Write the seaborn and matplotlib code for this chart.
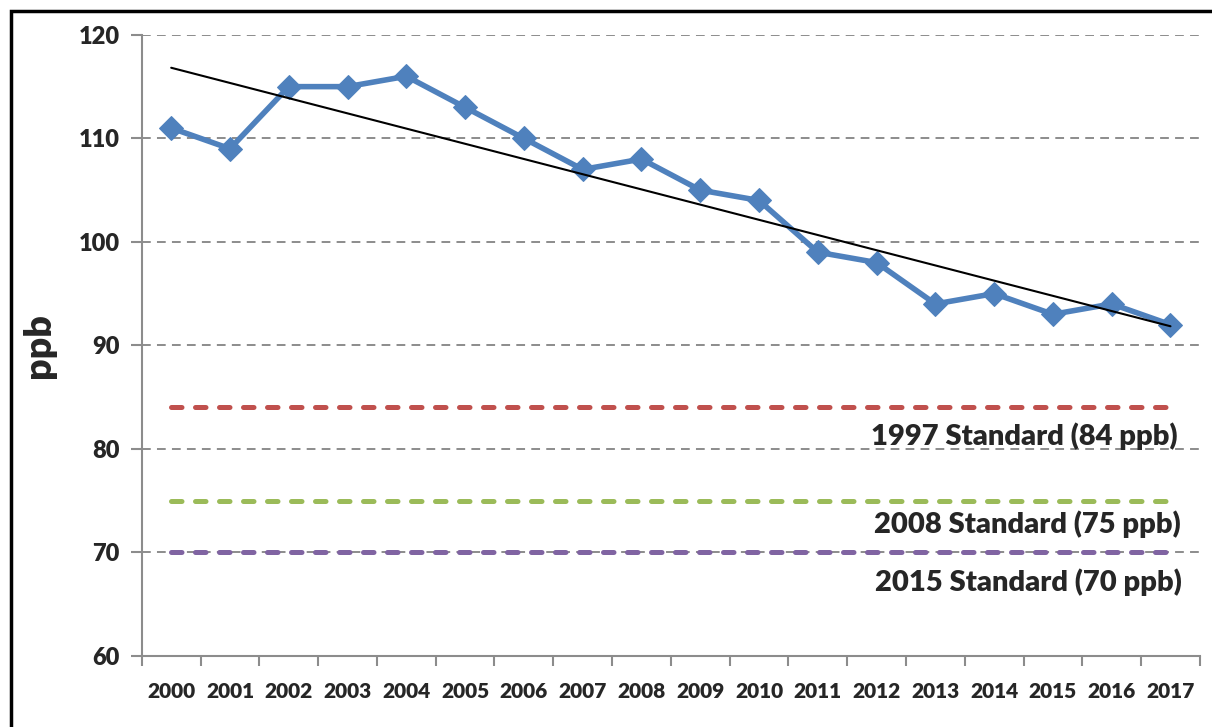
import numpy as np
import pandas as pd
import matplotlib
matplotlib.use("Agg")
import matplotlib.pyplot as plt
import seaborn as sns
from matplotlib.patches import Rectangle

# data
years = [str(y) for y in range(2000, 2018)]
ppb = [111, 109, 115, 115, 116, 113, 110, 107, 108, 105, 104, 99, 98, 94, 95, 93, 94, 92]
standard_names = ["1997 Standard (84 ppb)", "2008 Standard (75 ppb)", "2015 Standard (70 ppb)"]
standard_values = [84, 75, 70]
standard_colors = ["#C0504D", "#9BBB59", "#8064A2"]
y_ticks = [60, 70, 80, 90, 100, 110, 120]

sns.set_style("white")
plt.rcParams['font.family'] = ['Lato', 'DejaVu Sans']
plt.rcParams['font.weight'] = 'heavy'
W = "heavy"

df = pd.DataFrame({"year": years, "ppb": ppb})
df["idx"] = np.arange(len(years))

fig = plt.figure(figsize=(12.12, 7.27), dpi=100)
ax = fig.add_axes([0.117, 0.098, 0.873, 0.854])

# gridlines
for v in y_ticks[1:]:
    ax.axhline(v, color="#8c8c8c", lw=1.4, ls=(0, (4.5, 3.2)), zorder=1)

# standards
for name, val, col in zip(standard_names, standard_values, standard_colors):
    sdf = pd.DataFrame({"idx": df["idx"], "v": [val] * len(df)})
    sns.lineplot(data=sdf, x="idx", y="v", ax=ax, color=col, lw=3.6, zorder=2)
    ax.lines[-1].set_dashes([2.1, 2.7])
    ax.lines[-1].set_dash_capstyle("round")

ax.text(17.12, 81.2, standard_names[0], ha="right", va="center", fontsize=21, fontweight=W)
ax.text(17.17, 72.7, standard_names[1], ha="right", va="center", fontsize=21, fontweight=W)
ax.text(17.2, 67.1, standard_names[2], ha="right", va="center", fontsize=21, fontweight=W)

# observed values
sns.lineplot(data=df, x="idx", y="ppb", ax=ax, color="#4F81BD", lw=4,
             marker="D", markersize=12, markeredgecolor="#4F81BD", zorder=3)

# linear trend
sns.regplot(data=df, x="idx", y="ppb", ax=ax, scatter=False, ci=None,
            line_kws={"color": "black", "lw": 1.5, "zorder": 4}, truncate=True)

ax.set_xlim(-0.5, len(years) - 0.5)
ax.set_ylim(60, 120)
ax.set_yticks(y_ticks)
ax.set_yticklabels([str(v) for v in y_ticks], fontsize=17, fontweight=W)
ax.set_xticks(df["idx"])
ax.set_xticklabels(years, fontsize=15, fontweight=W)
ax.set_xticks(np.arange(-0.5, len(years)), minor=True)
ax.tick_params(axis="x", which="major", length=0, pad=19, bottom=True)
ax.tick_params(axis="x", which="minor", length=7, width=1.5, color="#8c8c8c",
               direction="out", bottom=True)
ax.tick_params(axis="y", which="major", length=8, width=1.5, color="#8c8c8c",
               direction="out", pad=8, left=True)
ax.set_xlabel("")
ax.set_ylabel("ppb", fontsize=27, fontweight=W, labelpad=16)

for s in ["top", "right"]:
    ax.spines[s].set_visible(False)
for s in ["left", "bottom"]:
    ax.spines[s].set_color("#8c8c8c")
    ax.spines[s].set_linewidth(1.5)

# outer frame
fig.patches.append(Rectangle((0.009, -0.01), 1.0, 0.995, transform=fig.transFigure,
                             fill=False, edgecolor="black", lw=2.5))

fig.savefig("out.png", dpi=100)
